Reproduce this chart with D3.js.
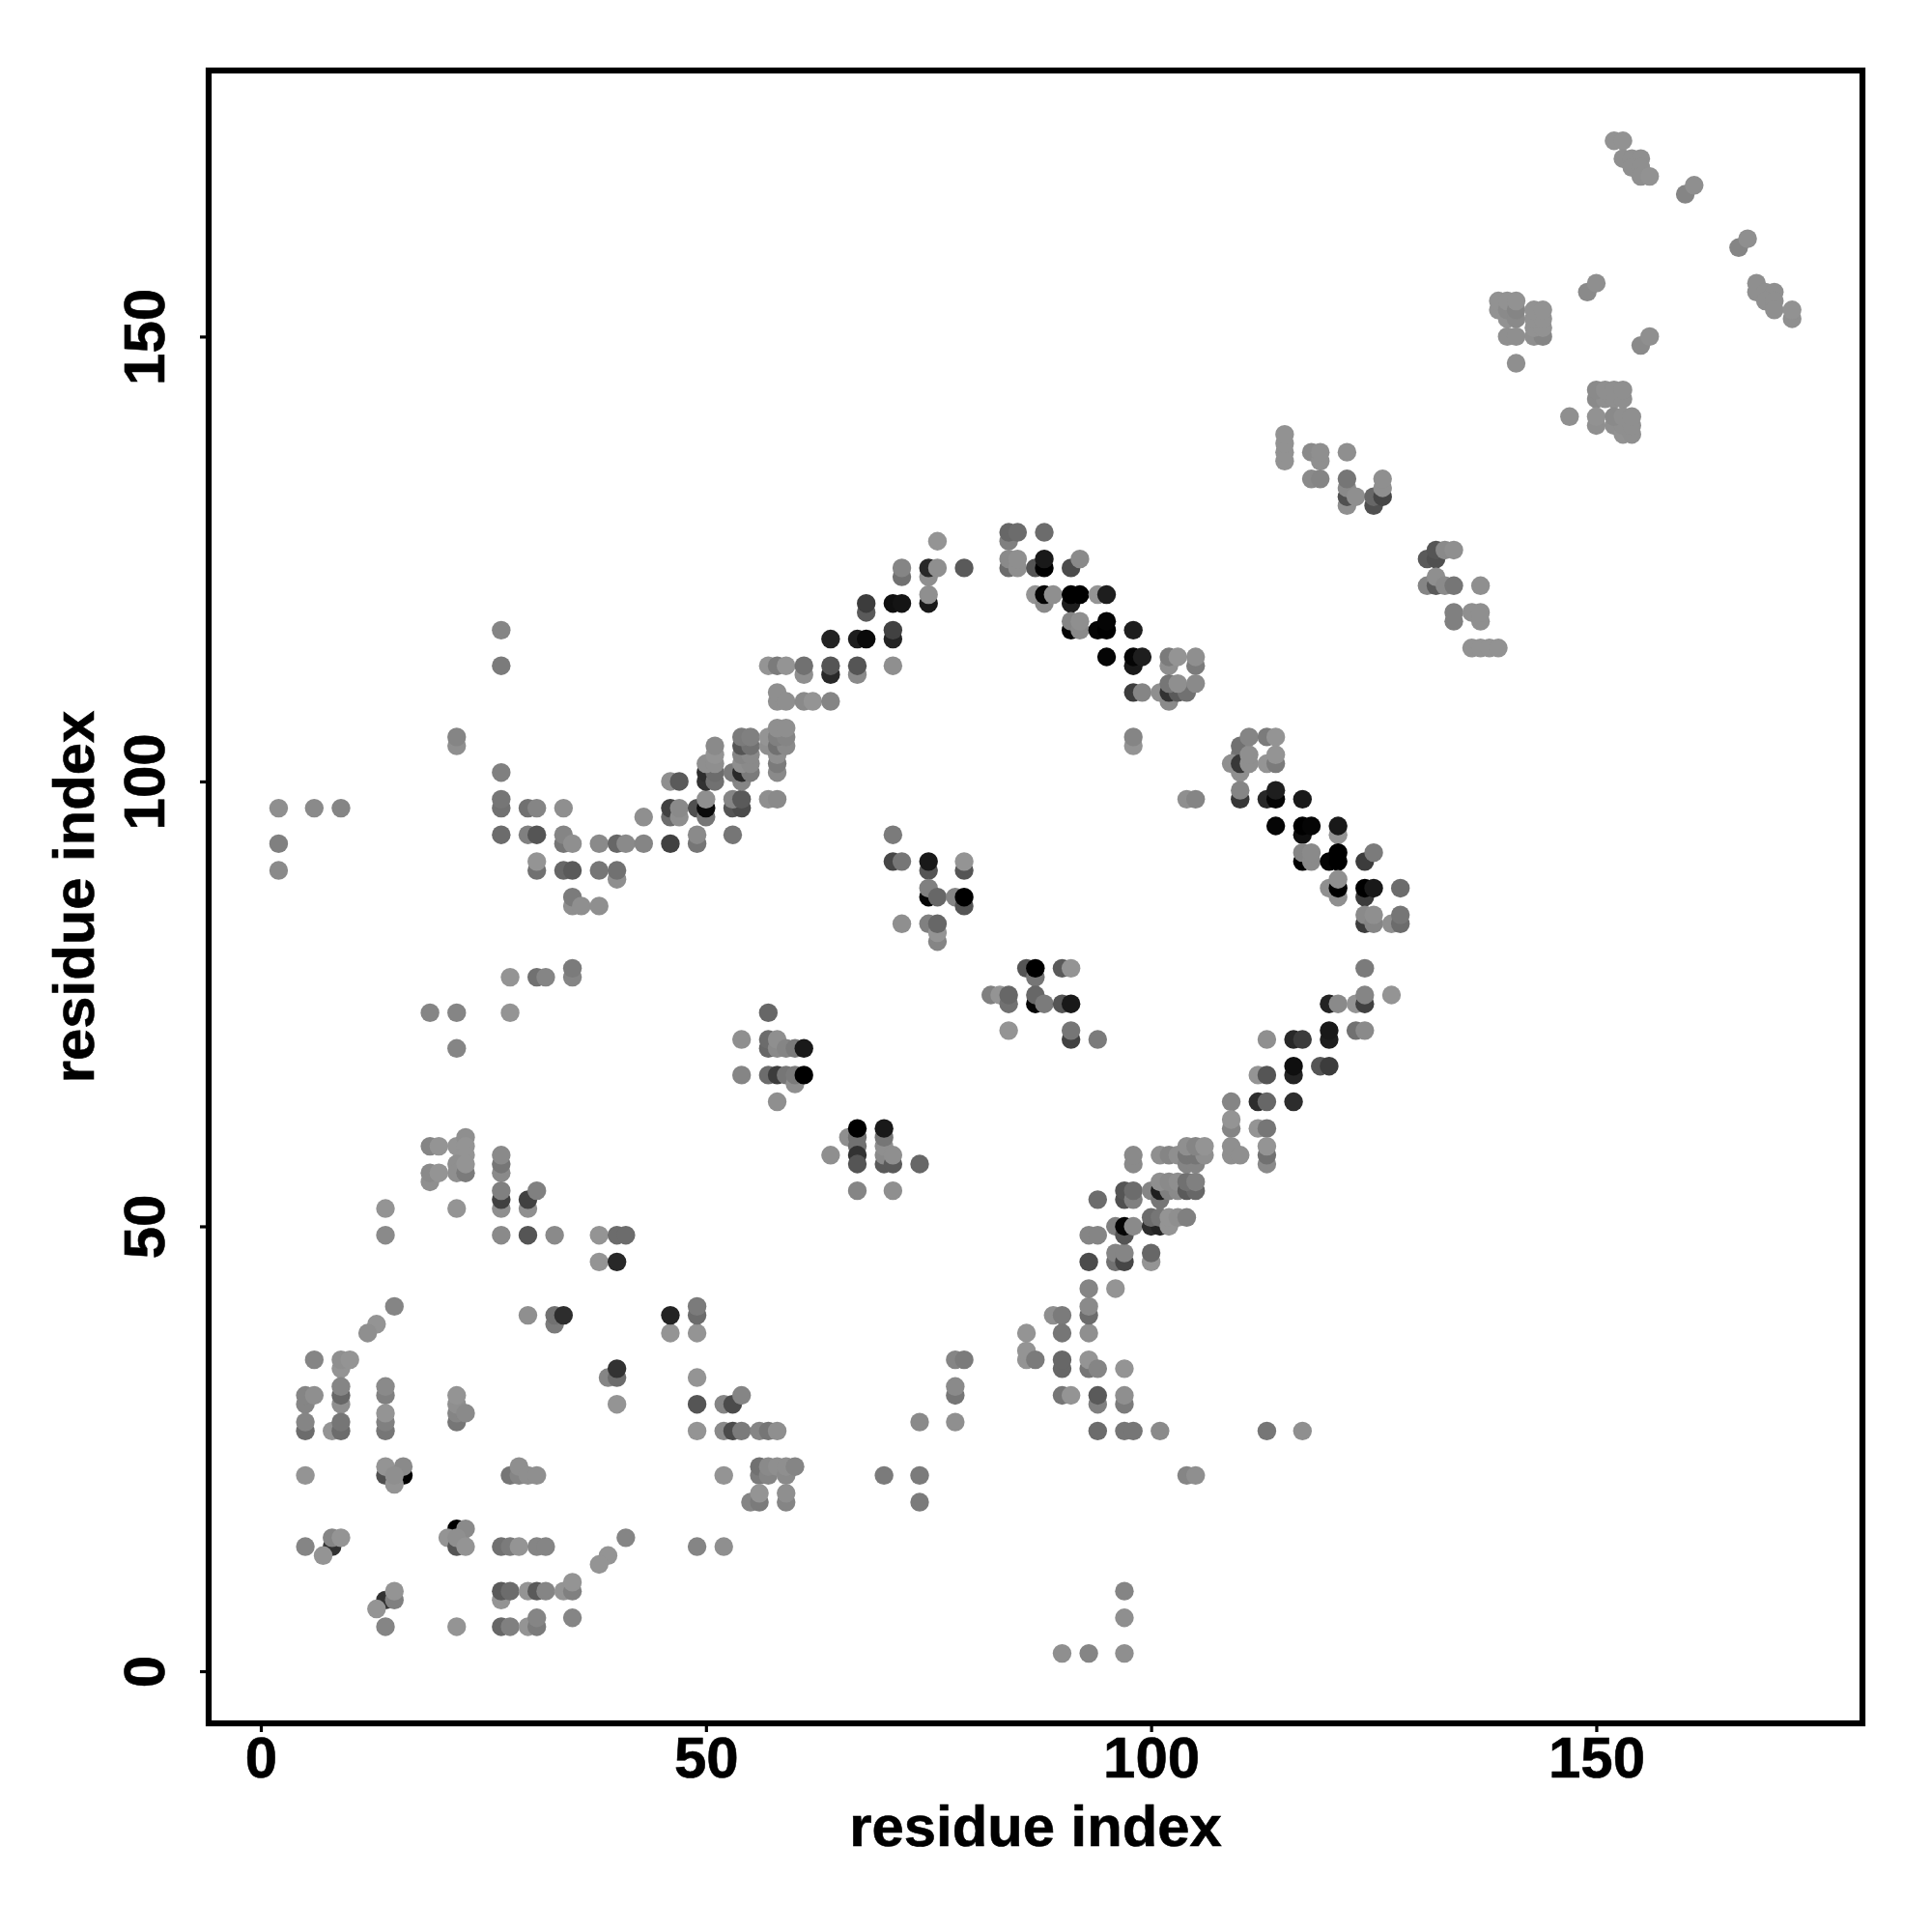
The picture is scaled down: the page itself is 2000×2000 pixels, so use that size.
<!DOCTYPE html>
<html><head><meta charset="utf-8">
<script src="https://cdn.jsdelivr.net/npm/d3@7"></script>
<style>html,body{margin:0;padding:0;background:#fff}svg{display:block}</style>
</head><body><svg id="c" width="2000" height="2000"></svg>
<script>
// each contact: [residue x, residue y, grey level]
const xTicks=[0,50,100,150], yTicks=[0,50,100,150];
const axisTitle="residue index";
const lowerLeftA=[[6,35,133],[9,34,148],[9,35,143],[10,35,148],[5,30,133],[5,31,133],[6,31,143],[5,27,108],[5,28,133],[9,30,143],[9,31,103],[9,32,133],[8,27,148],[9,27,108],[9,28,118],[14,31,128],[14,32,138],[14,27,118],[14,28,128],[14,29,148],[22,28,118],[22,29,133],[22,30,143],[22,31,148],[23,29,138]];
const lowerLeftB=[[5,22,148],[14,22,80],[14,23,148],[16,22,0],[16,23,138],[15,21,148],[15,22,143],[28,22,118],[29,22,133],[29,23,143],[30,22,143],[31,22,143],[5,14,133],[8,14,50],[7,13,148],[8,15,133],[9,15,148],[22,16,0],[23,16,138],[21,15,148],[22,14,85],[22,15,143],[23,14,148],[27,14,113],[28,14,123],[29,14,148],[31,14,133],[32,14,133],[41,15,133],[39,13,148],[38,12,148]];
const lowerLeftC=[[14,8,50],[15,8,128],[15,9,148],[13,7,148],[14,5,133],[22,5,148],[27,8,148],[27,9,90],[28,9,108],[30,9,148],[31,9,90],[32,9,133],[34,9,148],[35,9,128],[35,10,148],[27,5,103],[28,5,128],[30,5,148],[31,5,123],[31,6,133],[35,6,133],[40,30,148],[39,33,133],[40,33,108],[40,34,50]];
const midLeft=[[19,74,133],[22,74,133],[28,74,148],[22,70,133],[28,78,148],[31,78,113],[32,78,133],[35,78,133],[35,79,123],[19,59,133],[20,59,148],[22,59,148],[23,60,143],[23,59,148],[23,58,148],[22,57,143],[22,56,143],[23,56,123],[23,57,148],[19,55,143],[19,56,138],[20,56,148],[27,56,138],[27,57,118],[27,58,138],[27,52,143],[27,53,65],[27,54,128],[30,52,143],[30,53,65],[31,54,128],[14,52,148],[22,52,148],[14,49,138],[27,49,138],[30,49,85],[33,49,138],[38,49,148],[40,49,108],[41,49,108],[38,46,148],[40,46,40],[15,41,133],[13,39,148],[12,38,143],[30,40,143],[33,39,123],[33,40,113],[34,40,45]];
const lowerMid=[[46,38,148],[46,40,35],[49,38,148],[49,40,108],[49,41,123],[49,33,148],[49,30,85],[52,30,133],[53,30,75],[54,31,133],[49,27,148],[52,27,138],[53,27,75],[54,27,123],[56,27,133],[57,27,118],[58,27,143],[52,22,148],[56,22,123],[56,23,113],[57,22,133],[57,23,138],[58,23,143],[59,22,138],[59,23,143],[60,23,133],[55,19,133],[56,19,123],[56,20,148],[59,19,133],[59,20,143],[49,14,133],[52,14,143],[70,22,123],[74,22,123],[74,19,123],[74,28,138],[78,28,143],[78,31,118],[78,32,138],[78,35,133],[79,35,123]];
const lowerRight=[[86,38,148],[86,35,148],[86,36,148],[87,35,123],[89,40,143],[90,40,123],[90,38,118],[90,34,103],[90,35,103],[90,31,118],[91,31,148],[93,34,118],[93,35,148],[94,34,133],[93,38,143],[93,40,108],[93,41,138],[93,43,133],[93,46,75],[93,49,133],[94,49,133],[94,53,108],[96,43,148],[94,30,128],[94,31,90],[94,27,108],[97,27,118],[98,27,118],[101,27,138],[113,27,118],[117,27,143],[97,30,123],[97,31,143],[97,34,148],[90,2,143],[93,2,133],[97,2,143],[97,6,143],[97,9,133],[104,22,133],[105,22,143]];
const diagonalLow=[[96,46,113],[96,47,133],[97,46,70],[97,47,133],[100,46,148],[100,47,103],[96,50,128],[97,49,85],[97,50,5],[98,50,138],[97,53,80],[97,54,85],[98,53,128],[98,54,108],[98,57,138],[98,58,138],[100,54,133],[101,53,118],[101,54,30],[102,54,128],[103,54,138],[101,55,143],[102,55,138],[103,55,143],[104,54,90],[105,54,103],[104,55,113],[105,55,128],[100,50,45],[101,50,35],[100,51,108],[101,51,118],[102,50,148],[102,51,148],[103,51,143],[104,51,128],[101,58,143],[102,58,133],[103,58,143],[104,57,133],[105,57,133],[104,58,118],[105,58,118],[106,58,143],[104,59,143],[105,59,133],[106,59,148]];
const diagonalMid=[[109,64,133],[109,61,133],[109,62,148],[109,58,143],[109,59,143],[110,58,143],[112,67,148],[113,67,85],[112,64,45],[113,64,103],[112,61,148],[113,61,118],[113,57,138],[113,58,113],[113,59,148],[113,71,143],[116,71,40],[117,71,60],[116,64,45],[116,67,35],[116,68,15],[119,68,85],[120,68,60],[120,71,30],[120,72,25],[123,72,113],[124,72,138],[120,75,35],[121,75,138],[123,75,148],[124,75,65],[124,76,133],[127,76,148],[124,79,123]];
const upperLeft=[[2,90,138],[2,93,128],[2,97,143],[6,97,138],[9,97,133],[22,104,143],[22,105,133],[27,117,133],[27,113,123],[27,101,128],[27,97,113],[27,98,118],[27,94,108],[30,97,113],[31,97,133],[34,97,143],[30,94,128],[31,94,85],[34,93,118],[34,94,133],[35,93,143],[31,90,113],[31,91,148],[34,90,103],[35,90,90],[38,90,118],[40,89,143],[40,90,113],[38,93,138],[40,93,103],[41,93,138],[43,93,133],[46,93,65],[49,93,118],[49,94,138],[43,96,143],[35,86,143],[35,87,123],[36,86,143],[38,86,143],[46,100,143],[47,100,90],[46,96,108],[46,97,65],[47,96,143],[47,97,138],[49,97,80],[50,96,118],[50,97,10],[50,98,143],[53,94,118]];
const upperDense=[[50,100,50],[50,101,45],[51,100,113],[51,101,108],[50,102,143],[51,102,143],[51,103,148],[51,104,138],[53,97,85],[54,97,75],[53,98,133],[54,98,90],[54,100,133],[53,101,123],[54,101,40],[55,101,123],[54,102,143],[55,102,138],[54,103,133],[55,103,138],[54,104,85],[55,104,113],[54,105,123],[55,105,128],[57,98,143],[58,98,138],[58,101,138],[58,102,123],[58,103,143],[57,104,143],[57,105,148],[58,104,113],[59,104,138],[58,105,128],[59,105,133],[58,106,143],[59,106,143]];
const upperRising=[[57,113,148],[58,113,123],[59,113,148],[61,112,143],[61,113,113],[64,112,40],[64,113,85],[67,112,138],[67,113,85],[71,113,143],[58,109,143],[58,110,143],[59,109,143],[61,109,138],[62,109,148],[64,109,133],[64,116,35],[67,116,30],[68,116,10],[71,116,35],[71,117,65],[68,119,90],[68,120,60],[71,120,15],[72,120,20],[75,120,25],[75,121,143],[72,123,113],[72,124,133],[75,123,143],[75,124,40],[76,124,143],[76,127,148],[79,124,90]];
const centre=[[71,94,123],[71,91,70],[72,91,118],[75,90,85],[75,91,25],[79,90,85],[79,91,148],[75,87,5],[75,88,128],[76,87,103],[78,87,133],[79,86,85],[79,87,0],[72,84,143],[75,84,128],[76,82,133],[76,83,148],[76,84,103],[86,79,85],[87,78,118],[87,79,0],[90,79,90],[91,79,148],[82,76,128],[83,76,148],[84,75,113],[84,76,103],[87,75,5],[87,76,103],[88,75,123],[90,75,85],[91,75,25],[84,72,148],[91,71,65],[91,72,118],[94,71,123]];
const centreLow=[[54,71,143],[57,74,103],[57,70,103],[57,71,108],[58,70,138],[58,71,143],[59,70,133],[60,70,123],[61,70,25],[54,67,133],[57,67,108],[58,67,60],[59,67,118],[60,66,143],[60,67,123],[61,67,0],[58,64,143],[66,60,143],[67,60,113],[67,59,113],[67,58,50],[67,57,85],[67,61,0],[70,57,90],[70,58,138],[70,59,143],[70,60,118],[70,61,25],[71,57,90],[71,58,143],[64,58,143],[74,57,103],[67,54,133],[71,54,143]];
const descending=[[84,127,128],[84,128,103],[85,128,108],[88,128,108],[84,124,108],[84,125,138],[85,124,143],[85,125,143],[87,124,85],[88,124,0],[88,125,25],[91,124,75],[92,125,138],[87,121,148],[88,120,138],[88,121,5],[89,121,143],[91,120,30],[91,121,0],[92,121,0],[94,121,148],[95,121,30],[91,117,5],[91,118,133],[92,117,138],[92,118,143],[94,117,5],[95,117,0],[95,118,5],[98,117,30],[95,114,5],[98,113,25],[98,114,5],[99,114,30],[102,113,143],[102,114,123],[103,114,148],[105,113,123],[105,114,143],[98,110,60],[99,110,133],[101,110,143],[102,109,138],[102,110,50],[103,110,90],[104,110,113],[102,111,118],[103,111,143],[105,111,138],[98,104,148],[98,105,133]];
const descendingLow=[[110,103,118],[110,104,113],[109,102,143],[110,101,143],[110,102,55],[111,102,143],[111,103,143],[111,105,133],[113,102,148],[114,102,123],[114,103,148],[113,105,123],[114,105,148],[104,98,143],[105,98,133],[110,98,55],[110,99,133],[113,98,40],[114,98,5],[114,99,30],[117,98,25],[114,95,5],[117,94,15],[117,95,0],[118,95,5],[121,94,148],[121,95,25],[117,91,0],[117,92,133],[118,91,138],[118,92,138],[120,91,5],[121,91,0],[121,92,0],[124,91,60],[125,92,123],[120,88,143],[121,87,143],[121,88,0],[121,89,143],[124,87,60],[124,88,0],[125,88,25],[128,88,108],[124,84,60],[124,85,138],[125,84,133],[125,85,143],[127,84,143],[128,84,108],[128,85,118]];
const upperRightA=[[115,136,146],[115,137,146],[115,138,146],[115,139,146],[118,137,138],[119,136,143],[119,137,143],[118,134,138],[119,134,133],[122,137,143],[122,131,143],[122,132,80],[122,133,138],[122,134,118],[123,132,143],[125,131,80],[125,132,103],[126,132,70],[126,133,143],[126,134,143],[131,125,90],[132,125,80],[132,126,85],[133,126,138],[134,126,143],[131,122,133],[132,122,90],[132,123,143],[133,122,138],[134,122,118],[137,122,143],[134,118,128],[134,119,128],[136,119,143],[137,118,143],[137,119,143],[136,115,146],[137,115,146],[138,115,146],[139,115,146]];
const upperRightB=[[139,153,146],[139,154,146],[140,152,146],[140,153,138],[140,154,146],[141,152,138],[141,153,133],[141,154,146],[140,150,143],[141,150,143],[141,147,143],[143,150,143],[144,150,133],[143,151,146],[144,151,146],[143,152,146],[144,152,146],[143,153,146],[144,153,146],[149,155,138],[150,156,143],[155,149,138],[156,150,143],[147,141,143],[150,143,138],[151,143,143],[152,143,143],[153,143,143],[150,144,138],[151,144,143],[152,144,143],[153,144,143],[150,140,143],[150,141,146],[152,140,143],[153,139,146],[154,139,143],[153,140,143],[154,140,143],[152,141,138],[153,141,143],[154,141,143]];
const upperRightC=[[152,172,146],[153,172,146],[153,170,143],[154,170,143],[155,170,143],[154,169,143],[155,169,143],[155,168,143],[156,168,146],[160,166,133],[161,167,143],[166,160,133],[167,161,143],[168,155,143],[168,156,143],[169,155,143],[170,155,143],[169,154,143],[170,154,143],[170,153,143],[172,152,143],[172,153,146]];

const contacts=[lowerLeftA,lowerLeftB,lowerLeftC,midLeft,lowerMid,lowerRight,diagonalLow,diagonalMid,upperLeft,upperDense,upperRising,centre,centreLow,descending,descendingLow,upperRightA,upperRightB,upperRightC].flat();

const L=216,R=1928,T=73,B=1784;
const domain=[-5.86,179.9];
const x=d3.scaleLinear().domain(domain).range([L,R]);
const y=d3.scaleLinear().domain(domain).range([B,T]);
const svg=d3.select("#c");
svg.append("g").selectAll("circle").data(contacts).join("circle")
  .attr("cx",d=>x(d[0])).attr("cy",d=>y(d[1])).attr("r",9.7)
  .attr("fill",d=>d3.rgb(d[2],d[2],d[2]));
svg.append("rect").attr("x",L).attr("y",T).attr("width",R-L).attr("height",B-T)
  .attr("fill","none").attr("stroke","#000").attr("stroke-width",6.2);
const font="'Liberation Sans',Arial,sans-serif";
const gx=svg.append("g").attr("transform",`translate(0,${B})`)
  .call(d3.axisBottom(x).tickValues(xTicks).tickSize(9).tickPadding(8).tickFormat(d3.format("d")));
const gy=svg.append("g").attr("transform",`translate(${L},0)`)
  .call(d3.axisLeft(y).tickValues(yTicks).tickSize(9).tickFormat(d3.format("d")));
[gx,gy].forEach(g=>{g.select(".domain").remove();
  g.selectAll(".tick line").attr("stroke","#000").attr("stroke-width",3.2);
  g.selectAll(".tick text").attr("fill","#000").attr("stroke","#000").attr("stroke-width",0.6).attr("font-family",font).attr("font-weight","bold").attr("font-size",60);});
gx.selectAll(".tick text").attr("y",null).attr("dy",null).attr("transform","translate(0,56)").attr("text-anchor","middle");
gy.selectAll(".tick text").attr("x",null).attr("dy",null).attr("text-anchor","middle").attr("transform",`translate(${170-L},0) rotate(-90)`);
svg.append("text").text(axisTitle).attr("x",(L+R)/2).attr("y",1911).attr("text-anchor","middle")
  .attr("stroke","#000").attr("stroke-width",0.6)
  .attr("font-family",font).attr("font-weight","bold").attr("font-size",59.8);
svg.append("text").text(axisTitle).attr("text-anchor","middle").attr("transform",`translate(97,${(T+B)/2}) rotate(-90)`)
  .attr("stroke","#000").attr("stroke-width",0.6)
  .attr("font-family",font).attr("font-weight","bold").attr("font-size",59.8);
</script></body></html>
